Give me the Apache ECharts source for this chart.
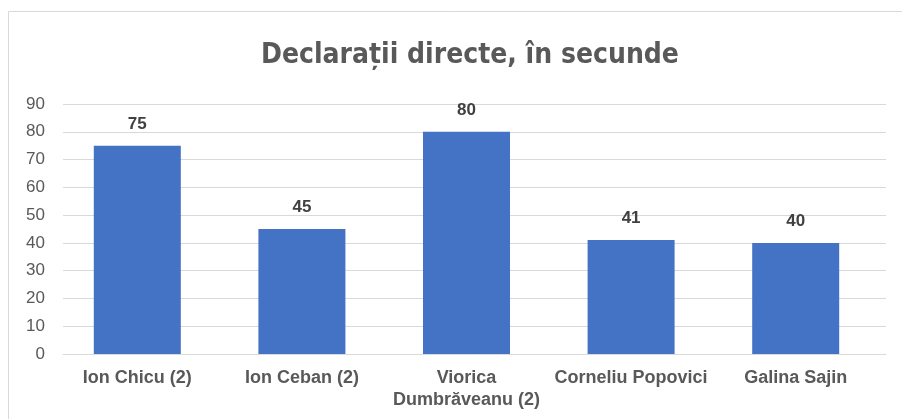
<html>
<head>
<meta charset="utf-8">
<script src="https://cdn.jsdelivr.net/npm/echarts@6/dist/echarts.min.js"></script>
</head>
<body style="margin:0">
<div id="chart-main" style="width:902px;height:419px;"></div>
<script type="text/javascript">
	// date
	var categorii = ['Ion Chicu (2)', 'Ion Ceban (2)', 'Viorica\nDumbrăveanu (2)', 'Corneliu Popovici', 'Galina Sajin'];
	var secunde = [75, 45, 80, 41, 40];

	var myChart = echarts.init(document.getElementById('chart-main'));
	var option = {
		animation: false,
		graphic: [{
			type: 'rect',
			shape: { x: 8.5, y: 11.5, width: 900, height: 420 },
			style: { fill: 'none', stroke: '#d9d9d9', lineWidth: 1 }
		}],
		title: {
			text: 'Declarații directe, în secunde',
			left: 256,
			top: 37,
			textStyle: {
				fontFamily: '"DejaVu Sans Condensed", sans-serif',
				fontSize: 28,
				fontWeight: 'bold',
				color: '#595959'
			}
		},
		// grila 0: axe si linii de grila, grila 1: barele (usor deplasate la stanga, ca in Excel)
		grid: [
			{ left: 63, right: 16, top: 104, bottom: 65 },
			{ left: 55, right: 24, top: 104, bottom: 65 }
		],
		xAxis: [{
			type: 'category',
			gridIndex: 0,
			data: categorii,
			axisLine: { lineStyle: { color: '#d9d9d9', width: 1 } },
			axisTick: { show: false },
			axisLabel: { show: false }
		}, {
			type: 'category',
			gridIndex: 1,
			data: categorii,
			axisLine: { show: false },
			axisTick: { show: false },
			axisLabel: {
				interval: 0,
				margin: 13,
				fontFamily: 'Liberation Sans, Arial',
				fontSize: 18,
				fontWeight: 'bold',
				color: '#595959',
				lineHeight: 22
			}
		}],
		yAxis: [{
			type: 'value',
			gridIndex: 0,
			min: 0,
			max: 90,
			interval: 10,
			axisLabel: {
				margin: 18,
				fontFamily: 'Liberation Sans, Arial',
				fontSize: 17,
				color: '#595959'
			},
			splitLine: { lineStyle: { color: '#d9d9d9', width: 1 } }
		}, {
			type: 'value',
			gridIndex: 1,
			min: 0,
			max: 90,
			interval: 10,
			show: false
		}],
		series: [{
			type: 'bar',
			xAxisIndex: 1,
			yAxisIndex: 1,
			data: secunde,
			barWidth: 87,
			itemStyle: { color: '#4472c4' },
			label: {
				show: true,
				position: 'top',
				distance: 13,
				fontFamily: 'Liberation Sans, Arial',
				fontSize: 17,
				fontWeight: 'bold',
				color: '#404040'
			}
		}]
	};
	myChart.setOption(option);
</script>
</body>
</html>
